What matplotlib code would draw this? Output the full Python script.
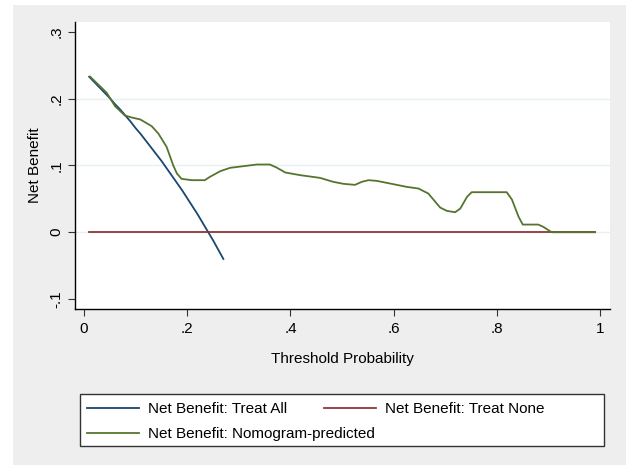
import matplotlib
matplotlib.use("Agg")
import matplotlib.pyplot as plt
from matplotlib.patches import Rectangle

plt.rcParams['font.family'] = ['Liberation Sans', 'DejaVu Sans']

# threshold probabilities and net benefit
pt_all = [0.01, 0.02, 0.03, 0.04, 0.05, 0.06, 0.07, 0.08, 0.09, 0.10,
          0.11, 0.12, 0.13, 0.14, 0.15, 0.16, 0.17, 0.18, 0.19, 0.20,
          0.21, 0.22, 0.23, 0.24, 0.25, 0.26, 0.27]
nb_all = [0.233, 0.225, 0.217, 0.209, 0.201, 0.192, 0.184, 0.175, 0.166, 0.156,
          0.147, 0.137, 0.127, 0.117, 0.107, 0.096, 0.085, 0.074, 0.063, 0.051,
          0.039, 0.027, 0.014, 0.001, -0.012, -0.026, -0.040]

pt_none = [0.01, 0.99]
nb_none = [0.0, 0.0]

pt_model = [0.012, 0.044, 0.060, 0.079, 0.092, 0.109, 0.131, 0.144, 0.160, 0.173,
            0.180, 0.189, 0.209, 0.234, 0.244, 0.264, 0.283, 0.309, 0.335, 0.360,
            0.373, 0.390, 0.419, 0.457, 0.483, 0.503, 0.525, 0.538, 0.551, 0.567,
            0.593, 0.625, 0.648, 0.667, 0.690, 0.703, 0.719, 0.729, 0.742, 0.751,
            0.819, 0.829, 0.842, 0.850, 0.880, 0.890, 0.906, 0.990]
nb_model = [0.233, 0.209, 0.189, 0.175, 0.172, 0.169, 0.159, 0.148, 0.128, 0.100,
            0.088, 0.080, 0.078, 0.078, 0.083, 0.0915, 0.0965, 0.099, 0.1015, 0.1015,
            0.097, 0.0895, 0.0855, 0.0815, 0.0755, 0.0725, 0.071, 0.0755, 0.078, 0.077,
            0.073, 0.068, 0.0655, 0.058, 0.037, 0.032, 0.030, 0.0355, 0.053, 0.060,
            0.060, 0.049, 0.023, 0.0115, 0.0115, 0.008, 0.0, 0.0]

x_ticks = [0, 0.2, 0.4, 0.6, 0.8, 1.0]
x_labels = ['0', '.2', '.4', '.6', '.8', '1']
y_ticks = [-0.1, 0, 0.1, 0.2, 0.3]
y_labels = ['-.1', '0', '.1', '.2', '.3']
grid_at = [0, 0.1, 0.2]

W, H = 627, 465
fig = plt.figure(figsize=(W / 100, H / 100), dpi=100, facecolor='white')
fig.patches.append(Rectangle((13 / W, 0), (626 - 13) / W, 1 - 5 / H,
                             transform=fig.transFigure, facecolor='#eeeeee',
                             edgecolor='none', zorder=-10))

ax = fig.add_axes([75 / W, 1 - 309 / H, (610 - 75) / W, (309 - 22) / H])
ax.set_facecolor('white')

for g in grid_at:
    ax.axhline(g, color='#e6eff1', lw=1.0, zorder=0)

l_all, = ax.plot(pt_all, nb_all, color='#1a476f', lw=1.3, label='Net Benefit: Treat All')
l_none, = ax.plot(pt_none, nb_none, color='#90353b', lw=1.3, label='Net Benefit: Treat None')
l_model, = ax.plot(pt_model, nb_model, color='#55752f', lw=1.3,
                   label='Net Benefit: Nomogram-predicted')

ax.set_xlim(-0.0174, 1.019)
ax.set_ylim(-0.115, 0.315)
ax.set_xticks(x_ticks)
ax.set_xticklabels(x_labels)
ax.set_yticks(y_ticks)
ax.set_yticklabels(y_labels, rotation=90, va='center')
ax.tick_params(axis='both', labelsize=11, length=5, width=0.8, color='#333333')
ax.tick_params(axis='y', pad=3.5)
ax.tick_params(axis='x', pad=4)

for s in ['top', 'right']:
    ax.spines[s].set_visible(False)
for s in ['left', 'bottom']:
    ax.spines[s].set_color('black')
    ax.spines[s].set_linewidth(1.0)

ax.set_xlabel('Threshold Probability', fontsize=11)
ax.set_ylabel('Net Benefit', fontsize=11)
ax.xaxis.set_label_coords(0.5, (309 - 352) / (309 - 22))
ax.yaxis.set_label_coords((42 - 75) / (610 - 75), 0.5)

# legend frame
fig.patches.append(Rectangle((80 / W, 1 - 446 / H), (604 - 80) / W, (446 - 394) / H,
                             transform=fig.transFigure, facecolor='white',
                             edgecolor='#333333', lw=1.0, zorder=5))

leg_kw = dict(frameon=False, fontsize=11, handlelength=3.4, handletextpad=0.6,
              borderpad=0, borderaxespad=0, labelspacing=0.72, loc='upper left')
leg1 = fig.legend([l_all, l_model], [l_all.get_label(), l_model.get_label()],
                  bbox_to_anchor=(87 / W, 1 - 402 / H), **leg_kw)
leg2 = fig.legend([l_none], [l_none.get_label()],
                  bbox_to_anchor=(324 / W, 1 - 402 / H), **leg_kw)
leg1.set_zorder(6)
leg2.set_zorder(6)

fig.savefig('out.png', dpi=100, facecolor=fig.get_facecolor())
